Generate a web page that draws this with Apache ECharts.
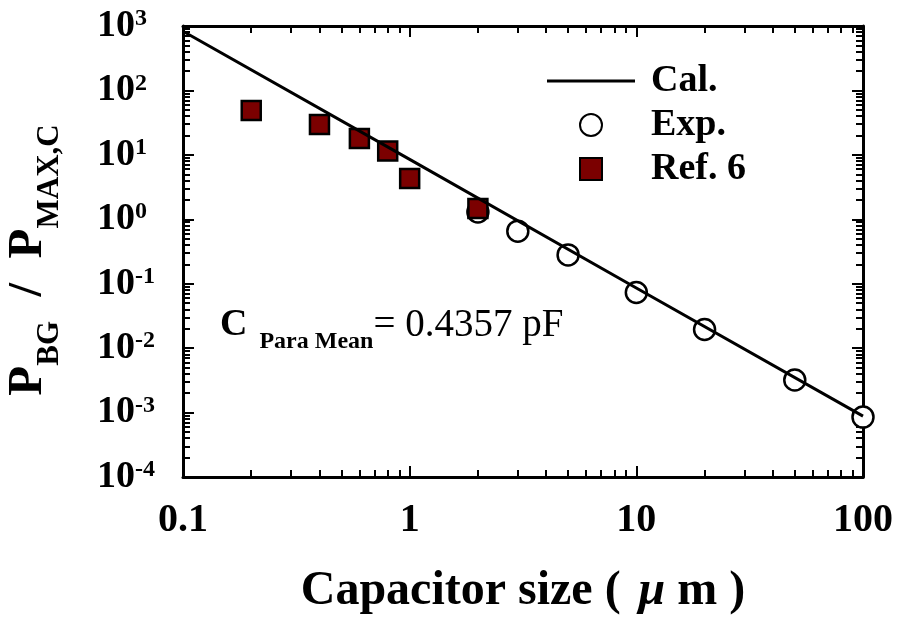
<!DOCTYPE html>
<html>
<head>
<meta charset="utf-8">
<script src="https://cdn.jsdelivr.net/npm/echarts@6/dist/echarts.min.js"></script>
<style>
  html, body { margin: 0; padding: 0; background: #fff; }
  #chart { width: 899px; height: 622px; }
</style>
</head>
<body>
<div id="chart"></div>
<script>
// Calculated background-to-max power ratio vs. capacitor size
const capSizeCal = [0.1, 1, 10, 100];
const ratioCal = [830, 8.5, 0.086, 0.00088];

// Measured points
const capSizeExp = [2, 3, 5, 10, 20, 50, 100];
const ratioExp = [1.3, 0.655, 0.28, 0.073, 0.0195, 0.0032, 0.00085];

// Points from reference 6
const capSizeRef = [0.2, 0.4, 0.6, 0.8, 1, 2];
const ratioRef = [49, 29.6, 17.9, 11.5, 4.3, 1.47];

const seriesNames = ['Cal.', 'Exp.', 'Ref. 6'];
const xTickLabels = ['0.1', '1', '10', '100'];
const yTickExponents = ['-4', '-3', '-2', '-1', '0', '1', '2', '3'];

const FONT = '"Liberation Serif", "Times New Roman", serif';

// minor tick positions (2..9 within each decade)
function decadeMinorTicks(lowExp, highExp) {
  const out = [];
  for (let e = lowExp; e < highExp; e++) {
    for (let k = 2; k <= 9; k++) out.push(+(k * Math.pow(10, e)).toPrecision(6));
  }
  return out;
}
const xMinor = decadeMinorTicks(-1, 2);
const yMinor = decadeMinorTicks(-4, 3);

const pair = (xs, ys) => xs.map((x, i) => [x, ys[i]]);

const axisLineStyle = { show: true, lineStyle: { color: '#000', width: 3 } };

function logAxis(extra) {
  return Object.assign({
    type: 'log', logBase: 10, interval: 1,
    splitLine: { show: false }, minorTick: { show: false }, minorSplitLine: { show: false },
    axisLine: { show: false }, axisLabel: { show: false },
    axisTick: { show: true, inside: true, length: 11, lineStyle: { color: '#000', width: 2 } }
  }, extra);
}
function minorAxis(extra, values) {
  return logAxis(Object.assign({
    axisTick: { show: true, inside: true, length: 7, customValues: values,
                lineStyle: { color: '#000', width: 2 } }
  }, extra));
}

const xRange = { min: 0.1, max: 100 };
const yRange = { min: 0.0001, max: 1000 };

const option = {
  animation: false,
  backgroundColor: '#fff',
  grid: { left: 183, right: 36, top: 26, bottom: 145, outerBoundsMode: 'none' },
  xAxis: [
    logAxis(Object.assign({
      position: 'bottom',
      axisLine: axisLineStyle,
      axisLabel: {
        show: true, margin: 24, fontFamily: FONT, fontSize: 40, fontWeight: 'bold', color: '#000',
        formatter: (v, i) => xTickLabels[i]
      },
      name: '{t|Capacitor size ( }{mu|\u03bc}{t| m )}',
      nameLocation: 'middle', nameGap: 91,
      nameTextStyle: {
        rich: {
          t: { fontFamily: FONT, fontSize: 48, fontWeight: 'bold', color: '#000' },
          mu: { fontFamily: FONT, fontSize: 48, fontWeight: 'bold', fontStyle: 'italic', color: '#000', padding: [0, 0, 0, 6] }
        }
      }
    }, xRange)),
    minorAxis(Object.assign({ position: 'bottom' }, xRange), xMinor),
    logAxis(Object.assign({ position: 'top', axisLine: axisLineStyle }, xRange)),
    minorAxis(Object.assign({ position: 'top' }, xRange), xMinor)
  ],
  yAxis: [
    logAxis(Object.assign({
      position: 'left',
      axisLine: axisLineStyle,
      axisLabel: {
        show: true, align: 'left', margin: 86,
        formatter: (v, i) => '{b|10}{s|' + yTickExponents[i] + '}',
        rich: {
          b: { fontFamily: FONT, fontSize: 38, fontWeight: 'bold', color: '#000', lineHeight: 38, verticalAlign: 'top' },
          s: { fontFamily: FONT, fontSize: 24, fontWeight: 'bold', color: '#000', lineHeight: 24, verticalAlign: 'top' }
        }
      }
    }, yRange)),
    minorAxis(Object.assign({ position: 'left' }, yRange), yMinor),
    logAxis(Object.assign({ position: 'right', axisLine: axisLineStyle }, yRange)),
    minorAxis(Object.assign({ position: 'right' }, yRange), yMinor)
  ],
  legend: {
    data: [
      { name: seriesNames[0], icon: 'path://M0 0 L88 0 L88 3 L0 3 Z' },
      { name: seriesNames[1] },
      { name: seriesNames[2], icon: 'path://M0 0 L10 0 L10 10 L0 10 Z' }
    ],
    orient: 'vertical',
    left: 542, top: 54,
    itemWidth: 88, itemHeight: 22, itemGap: 0,
    selectedMode: false,
    textStyle: {
      fontFamily: FONT, fontSize: 38, fontWeight: 'bold', color: '#000',
      lineHeight: 44, padding: [0, 0, 0, 11]
    }
  },
  series: [
    {
      name: seriesNames[0], type: 'line', xAxisIndex: 0, yAxisIndex: 0,
      data: pair(capSizeCal, ratioCal),
      symbol: 'none', showSymbol: false,
      lineStyle: { color: '#000', width: 3 },
      itemStyle: { color: '#000' }
    },
    {
      name: seriesNames[1], type: 'scatter', xAxisIndex: 0, yAxisIndex: 0,
      data: pair(capSizeExp, ratioExp),
      symbol: 'circle', symbolSize: 21,
      itemStyle: { color: '#fff', borderColor: '#000', borderWidth: 2.5, opacity: 1 }
    },
    {
      name: seriesNames[2], type: 'scatter', xAxisIndex: 0, yAxisIndex: 0,
      data: pair(capSizeRef, ratioRef),
      symbol: 'rect', symbolSize: 19,
      itemStyle: { color: '#7b0000', borderColor: '#000', borderWidth: 2.5, opacity: 1 }
    }
  ],
  graphic: [
    {
      // vertical axis title
      type: 'text', x: 4, y: 260, rotation: Math.PI / 2,
      style: {
        text: '{p|P}{sub|BG}{p|  /  }{p|P}{sub|MAX,C}',
        align: 'center', verticalAlign: 'top',
        rich: {
          p: { fontFamily: FONT, fontSize: 49, fontWeight: 'bold', fill: '#000', lineHeight: 49, verticalAlign: 'top' },
          sub: { fontFamily: FONT, fontSize: 31, fontWeight: 'bold', fill: '#000', lineHeight: 31, verticalAlign: 'top', padding: [30, 0, 0, 0] }
        }
      }
    },
    {
      // parasitic capacitance annotation
      type: 'text', x: 220, y: 306,
      style: {
        text: '{c|C}{s|Para Mean}{e|= 0.4357 pF}',
        align: 'left', verticalAlign: 'top',
        rich: {
          c: { fontFamily: FONT, fontSize: 38, fontWeight: 'bold', fill: '#000', lineHeight: 38, verticalAlign: 'top', padding: [0, 12, 0, 0] },
          s: { fontFamily: FONT, fontSize: 24, fontWeight: 'bold', fill: '#000', lineHeight: 24, verticalAlign: 'top', padding: [24, 0, 0, 0] },
          e: { fontFamily: FONT, fontSize: 39, fill: '#000', lineHeight: 38, verticalAlign: 'top' }
        }
      }
    }
  ]
};

const chart = echarts.init(document.getElementById('chart'), null, { renderer: 'canvas' });
chart.setOption(option);
</script>
</body>
</html>
